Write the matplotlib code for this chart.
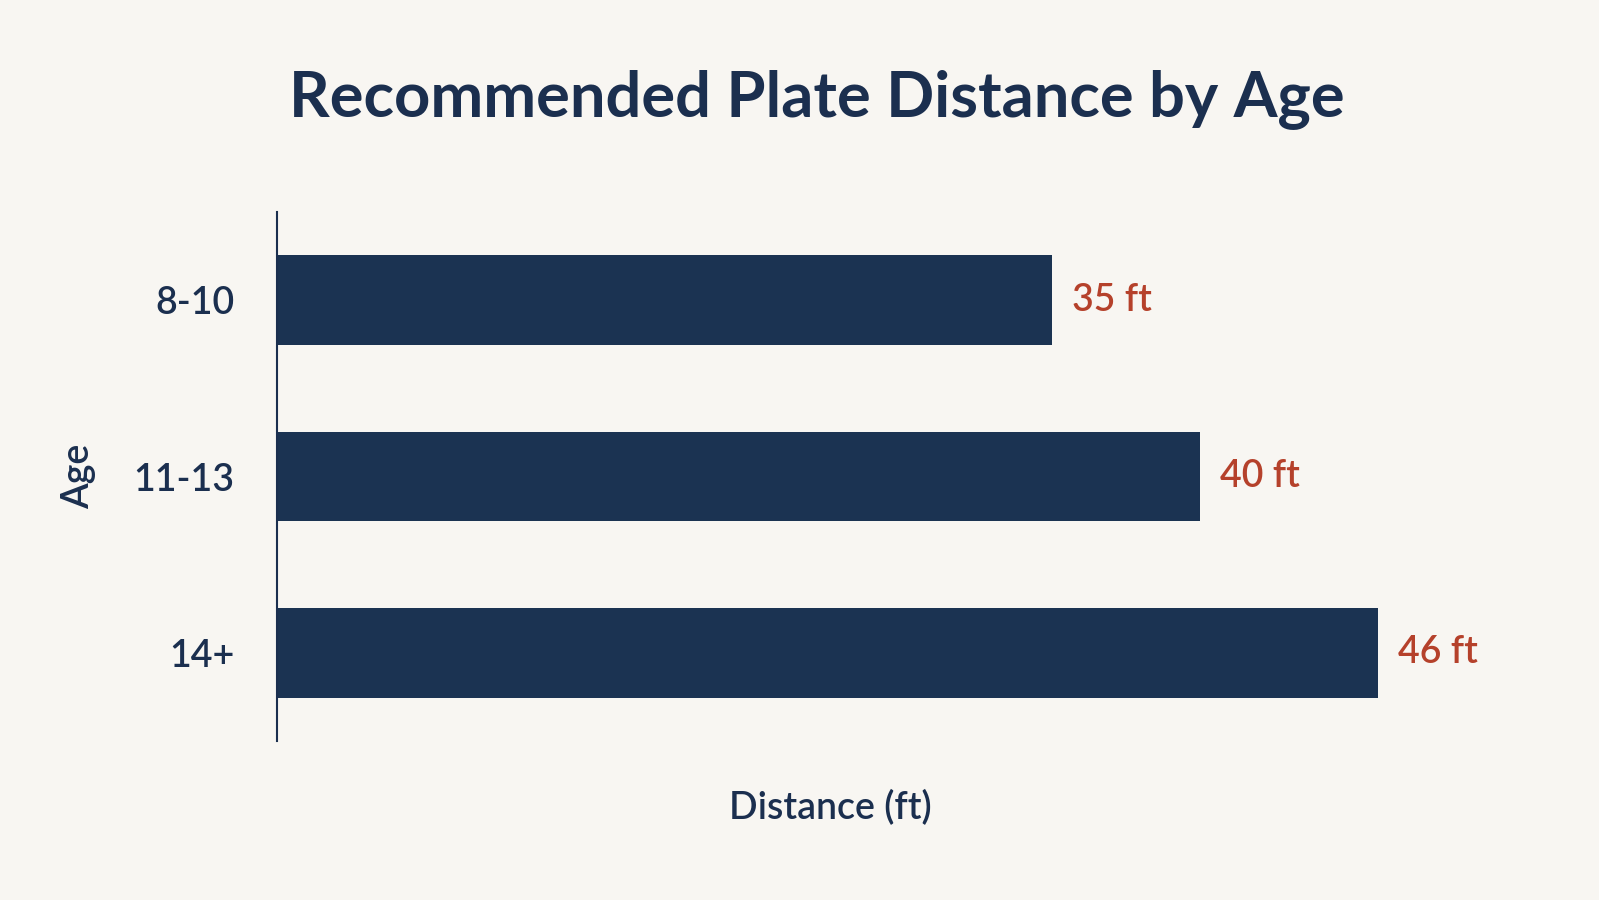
import matplotlib
matplotlib.use('Agg')
import matplotlib.pyplot as plt

ages = ['8-10', '11-13', '14+']
distances = [35, 40, 46]
value_labels = ['35 ft', '40 ft', '46 ft']

BG = '#f8f6f2'
NAVY = '#1b3352'
TEXT = '#1b2f4f'
RED = '#b5412b'

plt.rcParams['font.family'] = ['Lato', 'DejaVu Sans']

# layout measured on a 1568x883 view of the reference
W, H = 1568, 883

fig = plt.figure(figsize=(15.99, 9), dpi=100, facecolor=BG)
ax = fig.add_axes([272 / W, 1 - 727 / H, (1500 - 272) / W, (727 - 208) / H])
ax.set_facecolor(BG)

ypos = list(range(len(ages)))
ax.barh(ypos, distances, height=0.51, color=NAVY, left=0)

for y, d, lbl in zip(ypos, distances, value_labels):
    ax.text(d + 0.65, y, lbl, va='center', ha='left', fontsize=27,
            color=RED, fontweight='semibold')

ax.set_xlim(8.87, 51.1)
ax.set_ylim(2.5, -0.5)
ax.set_yticks(ypos)
ax.set_yticklabels(ages, fontsize=27, color=TEXT, fontweight='semibold')
ax.tick_params(axis='y', length=0, pad=31)
ax.set_xticks([])

for s in ['top', 'right', 'bottom']:
    ax.spines[s].set_visible(False)
ax.spines['left'].set_color(TEXT)
ax.spines['left'].set_linewidth(1.5)

ax.set_ylabel('Age', fontsize=27, color=TEXT, fontweight='semibold', labelpad=27)
fig.text(814 / W, 1 - 793 / H, 'Distance (ft)', ha='center', va='center',
         fontsize=27, color=TEXT, fontweight='semibold')

fig.text(801 / W, 1 - 97 / H, 'Recommended Plate Distance by Age',
         ha='center', va='center', fontsize=45.5, color=TEXT, fontweight='bold')

fig.savefig('out.png', dpi=100, facecolor=BG)
